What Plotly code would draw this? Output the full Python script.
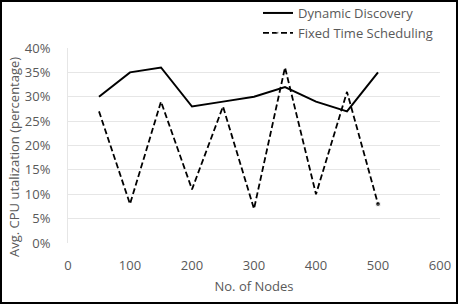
import plotly.graph_objects as go

nodes = [50, 100, 150, 200, 250, 300, 350, 400, 450, 500]
dynamic_discovery = [30, 35, 36, 28, 29, 30, 32, 29, 27, 35]
fixed_time = [27, 8, 29, 11, 28, 7, 36, 10, 31, 8]
y_ticks = [0, 5, 10, 15, 20, 25, 30, 35, 40]
x_ticks = [0, 100, 200, 300, 400, 500, 600]

W, H = 458, 304
ml, mr, mt, mb = 68, 18, 48, 61
pw, ph = W - ml - mr, H - mt - mb

fig = go.Figure()
fig.add_trace(go.Scatter(x=nodes, y=dynamic_discovery, mode="lines", name="Dynamic Discovery",
                         line=dict(color="black", width=2)))
fig.add_trace(go.Scatter(x=nodes, y=fixed_time, mode="lines+markers", name="Fixed Time Scheduling",
                         line=dict(color="black", width=1.8, dash="6px,3px"),
                         marker=dict(size=[0]*9 + [5], color="black")))

font_col = "#595959"
fig.update_layout(
    width=W, height=H,
    margin=dict(l=ml, r=mr, t=mt, b=mb, autoexpand=False),
    paper_bgcolor="white", plot_bgcolor="white",
    font=dict(family="Open Sans", size=13, color=font_col),
    showlegend=True,
    legend=dict(x=(258 - ml) / pw, y=1 + (mt + 2) / ph, xanchor="left", yanchor="top",
                bgcolor="rgba(0,0,0,0)", font=dict(size=13, color=font_col),
                itemwidth=30, tracegroupgap=0),
    xaxis=dict(range=[0, 600], tickvals=x_ticks, showgrid=False, zeroline=False, automargin=False,
               showline=False, ticks="", ticklabelstandoff=13,
               title=dict(text="No. of Nodes", font=dict(size=13, color=font_col), standoff=8)),
    yaxis=dict(range=[0, 40], tickvals=y_ticks, ticktext=[f"{v}%" for v in y_ticks], automargin=False,
               showgrid=True, gridcolor="#e6e6e6", gridwidth=1, zeroline=False,
               showline=True, linecolor="#e6e6e6", ticks="", ticklabelstandoff=14),
)
fig.add_annotation(text="Avg. CPU utalization (percentage)", textangle=-90, showarrow=False,
                   xref="paper", yref="paper", x=(14 - ml) / pw, y=1 - (157 - mt) / ph,
                   xanchor="center", yanchor="middle", font=dict(size=13, color=font_col))
fig.add_shape(type="rect", xref="paper", yref="paper",
              x0=-(ml - 1) / pw, x1=1 + (mr - 1) / pw, y0=-(mb - 1) / ph, y1=1 + (mt - 1) / ph,
              line=dict(color="black", width=2), fillcolor="rgba(0,0,0,0)", layer="above")

fig.write_html("out.html", config={"displayModeBar": False},
               post_script="document.body.style.margin='0';document.body.style.overflow='hidden';")
